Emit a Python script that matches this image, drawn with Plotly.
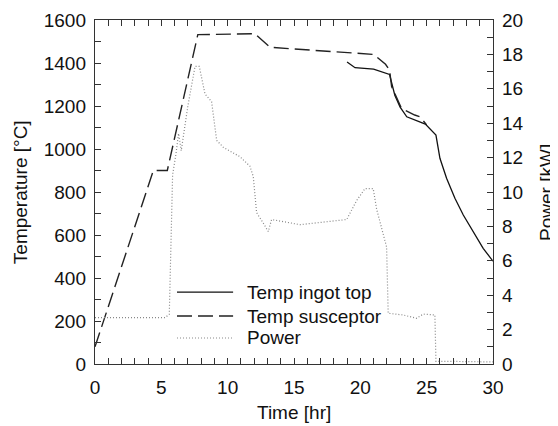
import plotly.graph_objects as go

# ---- data ----
susc_t = [0, 4.4, 5.45, 7.75, 12.05, 13.2, 21.0, 21.9, 22.2, 22.36, 23.1, 24.1, 24.5, 25.0]
susc_T = [80, 900, 900, 1532, 1536, 1473, 1440, 1394, 1367, 1290, 1189, 1158, 1150, 1112]

ingot_t = [19.0, 19.6, 21.0, 22.2, 22.6, 23.0, 23.5, 24.9, 25.7, 26.0, 26.5, 27.13, 27.76, 28.5, 29.26, 30.0]
ingot_T = [1405, 1378, 1372, 1347, 1250, 1195, 1150, 1116, 1065, 957, 864, 771, 693, 615, 538, 478]

power_t = [0, 5.3, 5.6, 5.75, 5.85, 6.1, 6.3, 6.5, 7.0, 7.54, 7.86, 8.29, 8.79, 9.17, 9.67, 10.93,
           11.68, 11.93, 12.18, 12.68, 13.06, 13.31, 14.7, 15.45, 18.97, 19.72, 20.35, 20.97, 21.23,
           21.98, 22.1, 23.23, 24.23, 24.74, 25.62, 25.7, 27.0, 28.5, 30.0]
power_P = [2.7, 2.7, 2.9, 8.0, 11.0, 12.2, 13.4, 12.4, 15.0, 17.3, 17.3, 15.7, 15.25, 13.0, 12.6, 12.05,
           11.5, 10.9, 8.8, 8.2, 7.7, 8.4, 8.2, 8.1, 8.4, 9.5, 10.2, 10.2, 9.0,
           6.8, 2.95, 2.85, 2.66, 2.9, 2.85, 0.15, 0.15, 0.15, 0.12]

x_ticks = [0, 5, 10, 15, 20, 25, 30]
temp_ticks = [0, 200, 400, 600, 800, 1000, 1200, 1400, 1600]
power_ticks = [0, 2, 4, 6, 8, 10, 12, 14, 16, 18, 20]

series_names = ["Temp ingot top", "Temp susceptor", "Power"]

FONT = "Liberation Sans, Arial, sans-serif"
FS = 19
AX = "#333333"

styles = [
    dict(color="#111111", width=1.3),
    dict(color="#222222", width=1.4, dash="15px,6px"),
    dict(color="#888888", width=1.2, dash="1px,2px"),
]

fig = go.Figure()
fig.add_trace(go.Scatter(x=ingot_t, y=ingot_T, mode="lines", name=series_names[0], line=styles[0]))
fig.add_trace(go.Scatter(x=susc_t, y=susc_T, mode="lines", name=series_names[1], line=styles[1]))
fig.add_trace(go.Scatter(x=power_t, y=power_P, mode="lines", name=series_names[2], yaxis="y2",
                         line=styles[2]))

# manual legend (sample lines + labels) in paper coordinates
leg_rows = [0.209, 0.1395, 0.0756]
shapes = []
annotations = []
for name, st, yy in zip(series_names, styles, leg_rows):
    shapes.append(dict(type="line", xref="paper", yref="paper", x0=0.206, x1=0.347, y0=yy, y1=yy,
                       line=st))
    annotations.append(dict(text=name, xref="paper", yref="paper", x=0.377, y=yy, showarrow=False,
                            xanchor="left", yanchor="middle", font=dict(size=FS)))

annotations += [
    dict(text="Temperature [°C]", xref="paper", yref="paper", x=-0.188, y=0.5,
         textangle=-90, showarrow=False, xanchor="center", yanchor="middle", font=dict(size=FS)),
    dict(text="Power [kW]", xref="paper", yref="paper", x=1.133, y=0.5,
         textangle=-90, showarrow=False, xanchor="center", yanchor="middle", font=dict(size=FS)),
    dict(text="Time [hr]", xref="paper", yref="paper", x=0.5, y=-0.142,
         showarrow=False, xanchor="center", yanchor="middle", font=dict(size=FS)),
]

axis_common = dict(ticks="inside", ticklen=6, tickwidth=1.2, tickcolor=AX, showline=True,
                   linecolor=AX, linewidth=1.4, showgrid=False, zeroline=False, automargin=False)

# the page body has an 8px margin, so the figure is sized/offset to compensate
fig.update_layout(
    template="none",
    width=550, height=418,
    margin=dict(l=87, r=65, t=12, b=62, pad=0),
    paper_bgcolor="white", plot_bgcolor="white",
    font=dict(family=FONT, size=FS, color="#111111"),
    showlegend=False,
    xaxis=dict(range=[0, 30], tickvals=x_ticks, mirror="ticks", ticklabelstandoff=6,
               minor=dict(dtick=1, ticks="inside", ticklen=6, tickwidth=1.2, tickcolor=AX, showgrid=False),
               **axis_common),
    yaxis=dict(range=[0, 1600], tickvals=temp_ticks, ticklabelstandoff=4,
               minor=dict(dtick=100, ticks="inside", ticklen=6, tickwidth=1.2, tickcolor=AX, showgrid=False),
               **axis_common),
    yaxis2=dict(range=[0, 20], tickvals=power_ticks, overlaying="y", side="right", ticklabelstandoff=4,
                minor=dict(dtick=1, ticks="inside", ticklen=6, tickwidth=1.2, tickcolor=AX, showgrid=False),
                **axis_common),
    shapes=shapes,
    annotations=annotations,
)

fig.write_html("out.html")
